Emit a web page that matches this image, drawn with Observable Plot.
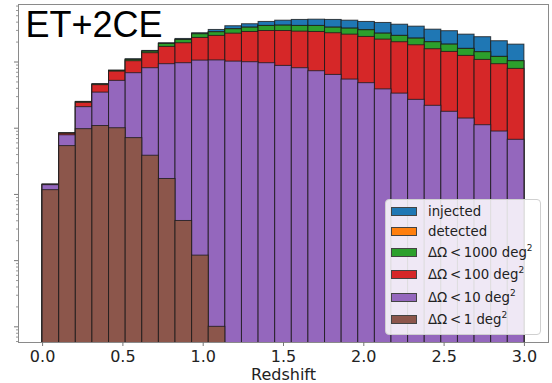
<!DOCTYPE html>
<html>
<head>
<meta charset="utf-8">
<script src="https://cdn.jsdelivr.net/npm/d3@7"></script>
<script src="https://cdn.jsdelivr.net/npm/@observablehq/plot@0.6"></script>
<style>
  body { margin: 0; background: #fff; }
  #wrap { position: relative; width: 552px; height: 383px; }
  .legend {
    position: absolute; left: 385px; top: 199px; width: 156px; height: 136px;
    box-sizing: border-box; border: 1px solid #d0d0d0; border-radius: 4px;
    background: rgba(255,255,255,0.85); padding: 1px 0 0 5px;
    font-family: "DejaVu Sans", sans-serif; font-size: 13.3px; color: #222;
  }
  .row { display: flex; align-items: center; height: 20px; }
  .row.tall { height: 22.5px; }
  .sw { width: 26px; height: 9px; border: 1px solid #444; box-sizing: border-box; margin-right: 11px; flex: none; }
  sup { font-size: 9px; vertical-align: 6px; line-height: 0; }
</style>
</head>
<body>
<div id="wrap"></div>
<script>
// Redshift histogram: 29 equal bins on [0, 3]
const zMin = 0, zMax = 3, binCount = 29;
const edges = d3.range(binCount + 1).map(i => zMin + (zMax - zMin) * i / binCount);

// Counts per redshift bin
const injected = [1410, 8380, 25000, 46200, 74100, 110200, 147000, 192000, 223000, 272000,
  305000, 347000, 372000, 403000, 421000, 432000, 436000, 432000, 421000, 403000,
  389000, 366000, 342000, 308000, 292000, 259000, 237000, 206000, 183000];
const detected = [1400, 8320, 24600, 45600, 73400, 107600, 143500, 187500, 215500, 262500,
  281500, 312500, 330000, 350500, 354000, 350500, 350500, 330000, 319000, 302000,
  268000, 248000, 225500, 199000, 183000, 157700, 140600, 119400, 102800];
const lt1000 = [1400, 8320, 24600, 45600, 73400, 107600, 143500, 187500, 215500, 262500,
  281500, 312500, 330000, 350500, 354000, 350500, 350500, 330000, 319000, 302000,
  268000, 248000, 225500, 199000, 183000, 157700, 140600, 119400, 102800];
const lt100 = [1390, 8240, 24200, 44700, 71600, 102800, 135800, 169000, 192000, 231000,
  248000, 268000, 284000, 294000, 294000, 287500, 284000, 272000, 259000, 239000,
  218000, 199000, 179000, 156000, 142000, 123600, 107600, 92700, 78700];
const lt10 = [1380, 7820, 20800, 34500, 51900, 67800, 80600, 92700, 95900, 105000,
  105700, 101400, 99300, 95900, 87300, 80600, 72600, 63800, 54300, 47900,
  38600, 33300, 26800, 21800, 17700, 14000, 11100, 8910, 6680];
const lt1 = [1160, 5370, 9680, 10800, 10000, 7090, 3840, 1710, 397, 119,
  10, 0, 0, 0, 0, 0, 0, 0, 0, 0,
  0, 0, 0, 0, 0, 0, 0, 0, 0];

const seriesNames = ["injected", "detected", "ΔΩ\u2009<\u20091000 deg²", "ΔΩ\u2009<\u2009100 deg²", "ΔΩ\u2009<\u200910 deg²", "ΔΩ\u2009<\u20091 deg²"];
const seriesColors = ["#1f77b4", "#ff7f0e", "#2ca02c", "#d62728", "#9467bd", "#8c564b"];
const seriesValues = [injected, detected, lt1000, lt100, lt10, lt1];
const xTicks = [0, 0.5, 1, 1.5, 2, 2.5, 3];
const title = "ET+2CE";

const yDomain = [5.8, 739000];
const majorY = [1e1, 1e2, 1e3, 1e4, 1e5];
const minorY = d3.range(0, 6).flatMap(p => d3.range(2, 10).map(k => k * 10 ** p))
  .filter(v => v > yDomain[0] && v < yDomain[1]);

// Overlaid (not stacked) histograms, drawn from widest selection to narrowest
const barMarks = seriesValues.map((vals, s) => {
  const rows = vals.map((v, i) => ({x1: edges[i], x2: edges[i + 1], v}))
    .filter(d => d.v > 0);
  return Plot.rectY(rows, {
    x1: "x1", x2: "x2", y1: () => 1, y2: "v",
    fill: seriesColors[s], stroke: "#1a1a1a", strokeOpacity: 0.8, strokeWidth: 1,
    inset: 0, clip: true
  });
});

const chart = Plot.plot({
  width: 552, height: 383,
  marginLeft: 18, marginRight: 4, marginTop: 4, marginBottom: 41,
  style: { fontFamily: "DejaVu Sans, sans-serif", background: "#fff" },
  x: { domain: [-0.15, 3.15] },
  y: { type: "log", domain: yDomain },
  marks: [
    ...barMarks,
    Plot.frame({ stroke: "#8a8a8a", strokeWidth: 1 }),
    Plot.axisY({ ticks: majorY, tickSize: 4, tickFormat: () => "", label: null, stroke: "#777" }),
    Plot.axisY({ ticks: minorY, tickSize: 2, tickFormat: () => "", label: null, stroke: "#999" }),
    Plot.axisX({ ticks: xTicks, tickSize: 4, tickPadding: 4, tickFormat: d3.format(".1f"),
      fontSize: 16, color: "#222", stroke: "#777",
      label: "Redshift", labelAnchor: "center", labelArrow: "none", labelOffset: 37 }),
    Plot.text([title], { frameAnchor: "top-left", dx: 7, dy: 7, text: d => d,
      fontSize: 36, fontFamily: "Liberation Sans, Arial, sans-serif", fill: "#000", lineAnchor: "top" })
  ]
});

const wrap = document.getElementById("wrap");
wrap.appendChild(chart);

// Legend box in the lower-right corner of the axes
const legend = document.createElement("div");
legend.className = "legend";
seriesNames.forEach((name, s) => {
  const row = document.createElement("div");
  const hasSup = name.endsWith("²");
  row.className = "row" + (hasSup ? " tall" : "");
  const sw = document.createElement("span");
  sw.className = "sw";
  sw.style.background = seriesColors[s];
  const label = document.createElement("span");
  if (hasSup) {
    label.innerHTML = name.slice(0, -1) + "<sup>2</sup>";
  } else {
    label.textContent = name;
  }
  row.appendChild(sw);
  row.appendChild(label);
  legend.appendChild(row);
});
wrap.appendChild(legend);
</script>
</body>
</html>
